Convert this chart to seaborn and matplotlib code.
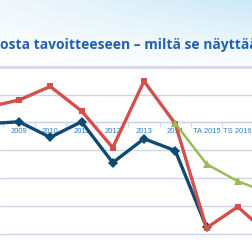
import numpy as np
import pandas as pd
import matplotlib
matplotlib.use("Agg")
import matplotlib.pyplot as plt
from matplotlib.ticker import FixedLocator
import seaborn as sns

# ---- data ----
categories = ["2008", "2009", "2010", "2011", "2012", "2013", "2014",
              "TA 2015", "TS 2016", "TS 2017"]
red_values = [45.5, 48.0, 52.9, 44.1, 30.9, 54.8, 39.5, 2.0, 9.6, -0.4]
blue_values = [39.5, 40.2, 34.6, 40.2, 25.5, 34.1, 29.8, 2.3, None, None]
green_values = [None, None, None, None, None, None, 39.6, 25.0, 18.8, 14.6]
title_text = "osta tavoitteeseen – miltä se näyttää"

RED = "#d2514c"
BLUE = "#0f4a73"
GREEN = "#9bbb59"
GRID = "#c9d6ec"
LABEL = "#3580c6"

sns.set_theme(style="white")

fig = plt.figure(figsize=(2.52, 2.52), dpi=100)

# background sky gradient
bg = fig.add_axes([0, 0, 1, 1])
bg.set_axis_off()
h, w = 252, 252
yy, xx = np.mgrid[0:h, 0:w]
t = np.clip(1 - yy / 70.0, 0, 1) * (0.30 + 0.70 * xx / w)
sky = np.array([0.80, 0.91, 0.97])
white = np.array([1.0, 1.0, 1.0])
img = white[None, None, :] * (1 - t[..., None]) + sky[None, None, :] * t[..., None]
bg.imshow(img, extent=[0, 1, 0, 1], aspect="auto", origin="upper")
bg.set_xlim(0, 1)
bg.set_ylim(0, 1)

ax = fig.add_axes([0, 0, 1, 1])
ax.patch.set_alpha(0)

x_idx = np.arange(len(categories))
df = pd.DataFrame({"x": x_idx, "red": red_values, "blue": blue_values,
                   "green": green_values})

ax.axhline(60, color="#d3d8ee", lw=2.0, zorder=1)

sns.lineplot(data=df.dropna(subset=["blue"]), x="x", y="blue", ax=ax, color=BLUE,
             lw=2.4, marker="D", markersize=4.6, markeredgewidth=0, zorder=3)
sns.lineplot(data=df.dropna(subset=["red"]), x="x", y="red", ax=ax, color=RED,
             lw=2.4, marker="s", markersize=5, markeredgewidth=0, zorder=4)
sns.lineplot(data=df.dropna(subset=["green"]), x="x", y="green", ax=ax, color=GREEN,
             lw=1.8, marker="^", markersize=5.5, markeredgewidth=0, zorder=5)

ax.set_xlim(0.392, 8.456)
ax.set_ylim(-6.65, 84.0)
ax.set_yticks([0, 10, 20, 30, 40, 50])
ax.yaxis.grid(True, color=GRID, lw=1.0)
ax.set_yticklabels([])
ax.tick_params(axis="y", length=0)
ax.set_xlabel("")
ax.set_ylabel("")

for s in ["top", "left", "right"]:
    ax.spines[s].set_visible(False)
ax.spines["bottom"].set_position(("data", 40))
ax.spines["bottom"].set_color(GRID)
ax.spines["bottom"].set_linewidth(1.0)
ax.spines["bottom"].set_zorder(1)

# only the categories inside the visible window get a label
vis = x_idx[1:9]
ax.set_xticks(vis)
ax.set_xticklabels(categories[1:9], fontsize=5.5, color=LABEL,
                   family=["Liberation Sans", "DejaVu Sans"])
ax.xaxis.set_minor_locator(FixedLocator(x_idx[:-1] + 0.5))
ax.tick_params(axis="x", which="major", length=0, pad=4.3)
ax.tick_params(axis="x", which="minor", length=3.8, width=0.8, color=GRID,
               bottom=True)

fig.text(0.0, 1 - 48.5 / 252, title_text, fontsize=10.0, fontweight="bold",
         color="#1f63ae", ha="left", va="baseline",
         family=["Open Sans", "DejaVu Sans"])

fig.savefig("out.png", dpi=100)
